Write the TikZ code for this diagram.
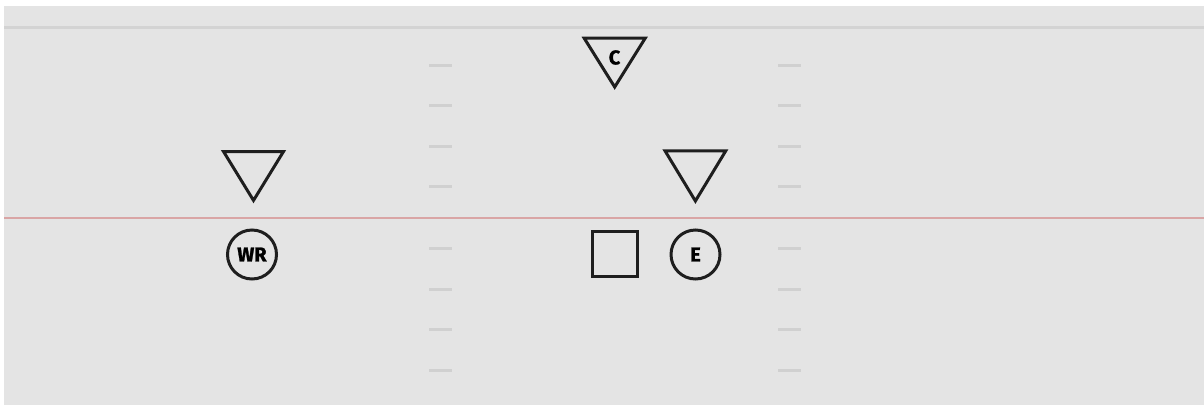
\documentclass[tikz,border=0pt]{standalone}
\usepackage{fontspec}
\setmainfont{Fira Sans}
\newfontfamily\lblfont[BoldFeatures={FakeBold=1.2}]{Fira Sans}
\definecolor{field}{HTML}{E4E4E4}
\definecolor{hash}{HTML}{D0D0D0}
\definecolor{topline}{HTML}{D3D3D3}
\definecolor{los}{HTML}{D9A5A5}
\definecolor{ink}{HTML}{1E1E1E}
\begin{document}
\begin{tikzpicture}[x=1pt,y=-1pt,
  hashmark/.style={hash,line width=3pt},
  player/.style={draw=ink,line width=3pt,circle,minimum size=49pt,inner sep=0pt,font=\lblfont\bfseries\fontsize{20}{20}\selectfont},
  qbbox/.style={draw=ink,line width=3pt,rectangle,minimum size=45.5pt,inner sep=0pt},
  deftri/.style={draw=ink,line width=3pt,line join=miter},
  lbl/.style={font=\lblfont\bfseries\fontsize{20}{20}\selectfont,inner sep=0pt}]
\useasboundingbox (0,0) rectangle (1204,405);
\fill[white] (0,0) rectangle (1204,405);
\fill[field] (4,6) rectangle (1204,405);
\draw[topline,line width=2.2pt] (4,27.5) -- (1204,27.5);
\draw[los,line width=1.6pt] (4,218) -- (1204,218);
\foreach \y in {65,105,146,186,248,289,329,370}{
  \draw[hashmark] (429,\y) -- (452,\y);
  \draw[hashmark] (778,\y) -- (801,\y);
}
% defenders
\draw[deftri] (584.2,38.2) -- (645.2,38.2) -- (614.7,87) -- cycle;
\node[lbl] (c) at (614.5,57.5) {C};
\draw[deftri] (223.5,151.5) -- (283.5,151.5) -- (253.5,200.4) -- cycle;
\draw[deftri] (665,150.8) -- (725.8,150.8) -- (695.4,201) -- cycle;
% offense
\node[player] (wr) at (252,254.5) {WR};
\node[player] (e) at (695.5,254.5) {E};
\node[qbbox] (qb) at (615,254) {};
\end{tikzpicture}
\end{document}
